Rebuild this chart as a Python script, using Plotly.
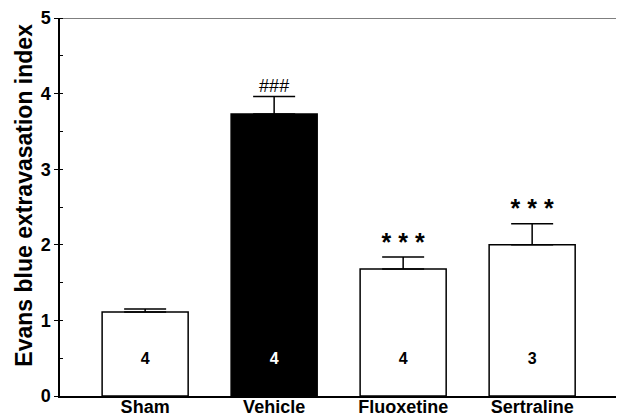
import plotly.graph_objects as go

groups = ["Sham", "Vehicle", "Fluoxetine", "Sertraline"]
means = [1.11, 3.73, 1.68, 2.00]
sem = [0.04, 0.23, 0.16, 0.28]
n_labels = ["4", "4", "4", "3"]
signif = ["", "###", "* * *", "* * *"]
bar_colors = ["white", "black", "white", "white"]
n_text_colors = ["black", "white", "black", "black"]
n_label_y = [0.48, 0.48, 0.48, 0.48]
y_title = "Evans blue extravasation index"

FONT = "Liberation Sans, Arial, sans-serif"
xs = list(range(len(groups)))

fig = go.Figure()
fig.add_trace(go.Bar(
    x=xs, y=means, width=0.667,
    marker=dict(color=bar_colors, line=dict(color="black", width=1.5)),
    error_y=dict(type="data", array=sem, arrayminus=[0]*len(sem), symmetric=False,
                 color="black", thickness=1.5, width=21),
    showlegend=False, hoverinfo="skip",
))
fig.add_trace(go.Scatter(
    x=xs, y=n_label_y, mode="text", text=n_labels,
    textfont=dict(family=FONT, size=16, color=n_text_colors, weight="bold"),
    textposition="middle center", showlegend=False, hoverinfo="skip",
))
fig.add_trace(go.Scatter(
    x=xs, y=[m + s for m, s in zip(means, sem)], mode="text", text=signif,
    textfont=dict(family=FONT, size=[18, 18, 25, 25], color="black",
                  weight=["normal", "normal", "bold", "bold"]),
    textposition="top center", showlegend=False, hoverinfo="skip",
))

fig.add_shape(type="line", xref="paper", yref="y", x0=0, x1=1, y0=5, y1=5,
              line=dict(color="black", width=1.2))

fig.add_annotation(
    text=y_title, textangle=-90, xref="paper", yref="paper",
    x=0, y=0.53, xshift=-36, xanchor="center", yanchor="middle",
    showarrow=False, font=dict(family=FONT, size=23, color="black", weight="bold"),
)

fig.update_layout(
    width=617, height=417,
    margin=dict(l=60, r=1, t=18, b=21),
    plot_bgcolor="white", paper_bgcolor="white",
    font=dict(family=FONT, color="black"),
    xaxis=dict(
        range=[-0.66, 3.65], tickmode="array", tickvals=xs, ticktext=groups,
        showline=True, linecolor="black", linewidth=1.5, ticks="",
        showgrid=False, zeroline=False, automargin=False,
        tickfont=dict(family=FONT, size=18, color="black", weight="bold"),
        ticklabelstandoff=-6,
    ),
    yaxis=dict(
        range=[0, 5], tickvals=[0, 1, 2, 3, 4, 5],
        showline=True, linecolor="black", linewidth=1.5,
        ticks="outside", ticklen=4, tickcolor="black", tickwidth=1,
        minor=dict(dtick=0.5, ticks="inside", ticklen=3, tickcolor="black"),
        showgrid=False, zeroline=False, automargin=False,
        tickfont=dict(family=FONT, size=18, color="black", weight="bold"),
    ),
)

fig.write_html("out.html", config={"displayModeBar": False},
               post_script="document.body.style.margin='0';document.body.style.overflow='hidden';")
